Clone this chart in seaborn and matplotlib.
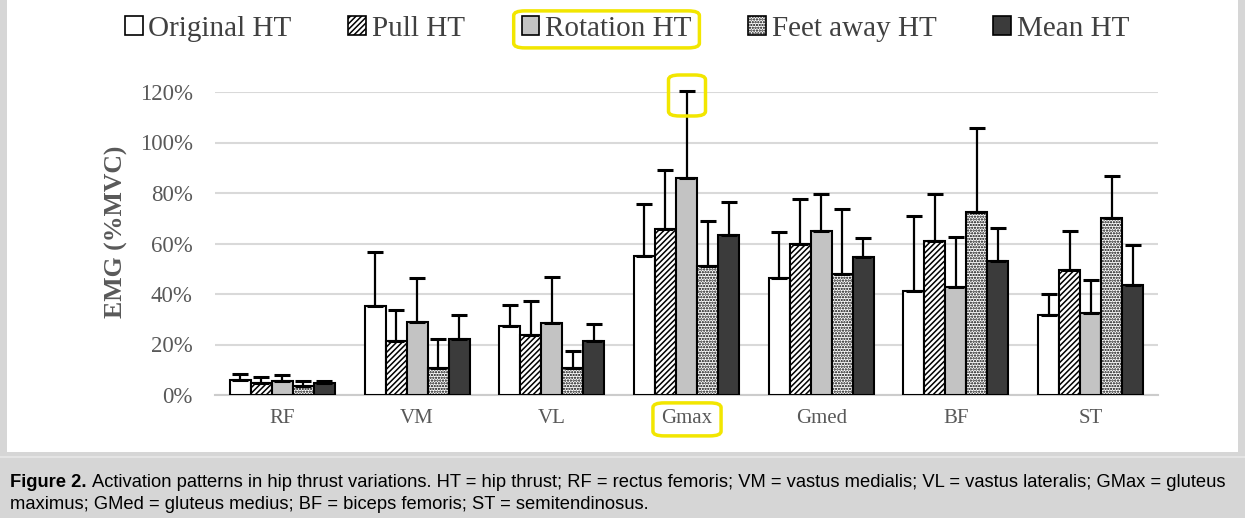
import matplotlib
matplotlib.use("Agg")
import matplotlib.pyplot as plt
from matplotlib.patches import Patch, Rectangle, FancyBboxPatch
import seaborn as sns
import pandas as pd
import numpy as np

muscles = ["RF", "VM", "VL", "Gmax", "Gmed", "BF", "ST"]
conditions = ["Original HT", "Pull HT", "Rotation HT", "Feet away HT", "Mean HT"]

original_mean = [6.0, 35.4, 27.4, 55.0, 46.4, 41.1, 31.5]
original_top = [8.5, 56.5, 35.5, 75.8, 64.7, 71.0, 39.9]
pull_mean = [4.9, 21.2, 23.7, 65.8, 59.7, 61.1, 49.7]
pull_top = [7.0, 33.5, 37.1, 89.1, 77.5, 79.5, 65.1]
rotation_mean = [5.6, 28.9, 28.6, 86.0, 65.0, 42.8, 32.6]
rotation_top = [7.8, 46.3, 46.6, 120.4, 79.7, 62.7, 45.7]
feet_mean = [3.4, 10.5, 10.7, 51.1, 48.0, 72.6, 70.2]
feet_top = [5.4, 22.0, 17.6, 69.1, 73.5, 105.9, 86.8]
mean_mean = [4.8, 22.2, 21.2, 63.3, 54.5, 53.0, 43.7]
mean_top = [5.7, 31.5, 28.2, 76.6, 62.2, 66.0, 59.4]

y_ticks = [0, 20, 40, 60, 80, 100, 120]
y_tick_labels = ["0%", "20%", "40%", "60%", "80%", "100%", "120%"]

means = [original_mean, pull_mean, rotation_mean, feet_mean, mean_mean]
tops = [original_top, pull_top, rotation_top, feet_top, mean_top]

fills = ["#ffffff", "#ffffff", "#c3c3c3", "#ffffff", "#3b3b3b"]
hatches = ["", "//////", "", "......", ""]

rows = []
for c, vals in zip(conditions, means):
    for m, v in zip(muscles, vals):
        rows.append({"muscle": m, "condition": c, "value": v})
df = pd.DataFrame(rows)

plt.rcParams["hatch.linewidth"] = 1.1
fig = plt.figure(figsize=(12.45, 5.18), dpi=100, facecolor="#d6d6d6")
# white panel
fig.patches.append(Rectangle((7 / 1245, 1 - 452 / 518), (1238 - 7) / 1245, 452 / 518,
                             transform=fig.transFigure, facecolor="white",
                             edgecolor="none", zorder=-5))
fig.patches.append(Rectangle((0, 1 - 458 / 518), 1, 2 / 518, transform=fig.transFigure,
                             facecolor="#e4e4e4", edgecolor="none", zorder=-5))

ax = fig.add_axes([215 / 1245, 1 - 395 / 518, (1158 - 215) / 1245, (395 - 92) / 518])
ax.set_facecolor("none")
ax.set_zorder(2)

sns.barplot(data=df, x="muscle", y="value", hue="condition", order=muscles,
            hue_order=conditions, palette=fills, width=0.78, errorbar=None,
            edgecolor="black", linewidth=1.5, legend=False, ax=ax, zorder=3)

bar_containers = list(ax.containers)
for i, cont in enumerate(bar_containers):
    xs, hs = [], []
    for bar in cont:
        bar.set_facecolor(fills[i])
        bar.set_hatch(hatches[i])
        bar.set_edgecolor("black")
        bar.set_linewidth(1.5)
        xs.append(bar.get_x() + bar.get_width() / 2)
        hs.append(bar.get_height())
    up = np.array(tops[i]) - np.array(hs)
    ax.errorbar(xs, hs, yerr=[np.zeros(len(hs)), up], fmt="none", ecolor="black",
                elinewidth=1.6, capsize=6, capthick=2.2, zorder=4, clip_on=False)

ax.set_ylim(0, 120)
ax.set_xlim(-0.5, len(muscles) - 0.5)
ax.set_yticks(y_ticks)
ax.set_yticklabels(y_tick_labels)
ax.grid(axis="y", color="#d9d9d9", linewidth=1.5, zorder=0)
ax.set_axisbelow(True)
for s in ["top", "right", "left"]:
    ax.spines[s].set_visible(False)
ax.spines["bottom"].set_color("#cccccc")
ax.spines["bottom"].set_linewidth(1.5)
ax.tick_params(axis="both", length=0)
ax.tick_params(axis="y", pad=16)
ax.tick_params(axis="x", pad=10)
for t in ax.get_yticklabels():
    t.set_fontfamily("Liberation Serif")
    t.set_fontsize(16.5)
    t.set_color("#595959")
for t in ax.get_xticklabels():
    t.set_fontfamily("Liberation Serif")
    t.set_fontsize(15)
    t.set_color("#595959")
ax.set_xlabel("")
ax.set_ylabel("EMG (%MVC)", fontfamily="Liberation Serif", fontsize=18.5,
              fontweight="bold", color="#595959")
ax.yaxis.set_label_coords(-0.092, 0.538)

handles = [Patch(facecolor=f, hatch=h, edgecolor="black", linewidth=1.2)
           for f, h in zip(fills, hatches)]
leg = fig.legend(handles, conditions, loc="upper center", bbox_to_anchor=(0.5036, 1.02),
                 ncol=5, frameon=False, handlelength=0.6, handleheight=0.6,
                 handletextpad=0.2, columnspacing=1.95,
                 prop={"family": "Liberation Serif", "size": 21})
for t in leg.get_texts():
    t.set_color("#404040")

# caption
cap_kw = dict(fontfamily="Liberation Sans", fontsize=13.25, color="black",
              va="baseline", ha="left")
t1 = fig.text(10 / 1245, 1 - 487 / 518, "Figure 2.", fontweight="bold", **cap_kw)
fig.canvas.draw()
r = fig.canvas.get_renderer()
bb = t1.get_window_extent(r)
fig.text((bb.x1 + 6) / 1245, 1 - 487 / 518,
         "Activation patterns in hip thrust variations. HT = hip thrust; RF = rectus femoris; "
         "VM = vastus medialis; VL = vastus lateralis; GMax = gluteus", **cap_kw)
fig.text(10 / 1245, 1 - 509 / 518,
         "maximus; GMed = gluteus medius; BF = biceps femoris; ST = semitendinosus.", **cap_kw)

# yellow highlight boxes
yellow = "#f2e600"
def ybox(x0, y0, x1, y1):
    fig.patches.append(FancyBboxPatch((x0 / 1245, 1 - y1 / 518), (x1 - x0) / 1245,
                                      (y1 - y0) / 518, boxstyle="round,pad=0,rounding_size=0.009",
                                      transform=fig.transFigure, facecolor="none",
                                      edgecolor=yellow, linewidth=2.5, zorder=10))

fig.canvas.draw()
H = 518
# legend entry of Rotation HT
tb = leg.get_texts()[2].get_window_extent(r)
hb = leg.legend_handles[2].get_window_extent(r)
ybox(hb.x0 - 8, H - tb.y1 - 5, tb.x1 + 8, H - tb.y0 + 6)
# error bar top of Gmax rotation
gi = muscles.index("Gmax")
gbar = bar_containers[2][gi]
px, py = ax.transData.transform((gbar.get_x() + gbar.get_width() / 2, rotation_top[gi]))
ybox(px - 18, H - py - 16, px + 19, H - py + 25)
# Gmax tick label
lb = ax.get_xticklabels()[gi].get_window_extent(r)
ybox(lb.x0 - 8, H - lb.y1 - 6, lb.x1 + 9, H - lb.y0 + 8)

fig.savefig("out.png", dpi=100, facecolor=fig.get_facecolor())
